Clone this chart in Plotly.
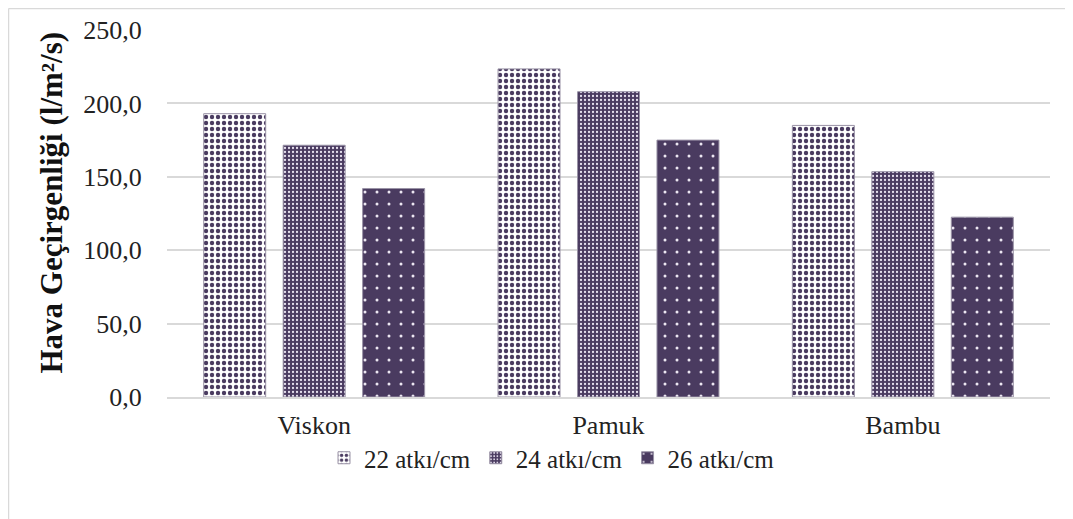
import plotly.graph_objects as go

categories = ["Viskon", "Pamuk", "Bambu"]
series_names = ["22 atkı/cm", "24 atkı/cm", "26 atkı/cm"]
v22 = [193.0, 223.5, 185.0]
v24 = [171.5, 208.0, 153.5]
v26 = [142.0, 175.0, 122.5]
y_ticks = [0, 50, 100, 150, 200, 250]

# page is rendered with an ~8px body offset; figure sized to fill the rest
W, H = 1065, 511
ML, MR, MT, MB = 159, 23, 22, 122
dark = "#4a3b60"
FAM = "Liberation Serif"

patterns = [
    dict(shape=".", fgcolor=dark, size=6, solidity=0.42, fgopacity=1, fillmode="overlay"),
    dict(shape=".", fgcolor="#e6e0ee", size=4, solidity=0.25, fgopacity=1, fillmode="overlay"),
    dict(shape=".", fgcolor="#ece7f2", size=12, solidity=0.05, fgopacity=1, fillmode="overlay"),
]
fills = ["white", dark, dark]

fig = go.Figure()
for name, vals, pat, fc in zip(series_names, [v22, v24, v26], patterns, fills):
    fig.add_trace(go.Bar(
        x=categories, y=vals, name=name,
        marker=dict(color=fc, pattern=pat, line=dict(color="#9a93a6", width=1)),
    ))

pw = W - ML - MR
ph = H - MT - MB
# outer chart border (top and left visible)
fig.add_shape(type="line", xref="paper", yref="paper",
              x0=(0.5 - ML) / pw, x1=(W + 5 - ML) / pw,
              y0=(H - MB - 0.5) / ph, y1=(H - MB - 0.5) / ph,
              line=dict(color="#d9d9d9", width=1.5))
fig.add_shape(type="line", xref="paper", yref="paper",
              x0=(0.5 - ML) / pw, x1=(0.5 - ML) / pw,
              y0=(H - MB - 0.5) / ph, y1=(-MB - 5) / ph,
              line=dict(color="#d9d9d9", width=1.5))

# y-axis title as rotated annotation
fig.add_annotation(text="<b>Hava Geçirgenliği (l/m²/s)</b>", textangle=-90,
                   xref="paper", yref="paper",
                   x=(43 - ML) / pw, y=(H - MB - 194.5) / ph,
                   xanchor="center", yanchor="middle", showarrow=False,
                   font=dict(family=FAM, size=31, color="#111"))

fig.update_layout(
    width=W, height=H,
    margin=dict(l=ML, r=MR, t=MT, b=MB, autoexpand=False),
    paper_bgcolor="white", plot_bgcolor="white",
    separators=",.",
    barmode="group", bargap=0.19, bargroupgap=0.22,
    font=dict(family=FAM, size=26, color="#222"),
    showlegend=True,
    legend=dict(orientation="h", x=(316 - ML) / pw, xanchor="left",
                y=(H - MB - 450) / ph, yanchor="middle",
                bgcolor="rgba(0,0,0,0)",
                font=dict(family=FAM, size=25), traceorder="normal",
                itemwidth=30),
    xaxis=dict(showline=True, linecolor="#d9d9d9", linewidth=1.5,
               ticks="outside", ticklen=4, tickcolor="rgba(0,0,0,0)",
               tickfont=dict(family=FAM, size=26), showgrid=False, automargin=False),
    yaxis=dict(range=[0, 250], tickvals=y_ticks, tickformat=".1f",
               showgrid=True, gridcolor="#d9d9d9", gridwidth=1.5,
               zeroline=False, ticks="outside", ticklen=19, tickcolor="rgba(0,0,0,0)",
               tickfont=dict(family=FAM, size=26), automargin=False),
)

fig.write_html("out.html")
